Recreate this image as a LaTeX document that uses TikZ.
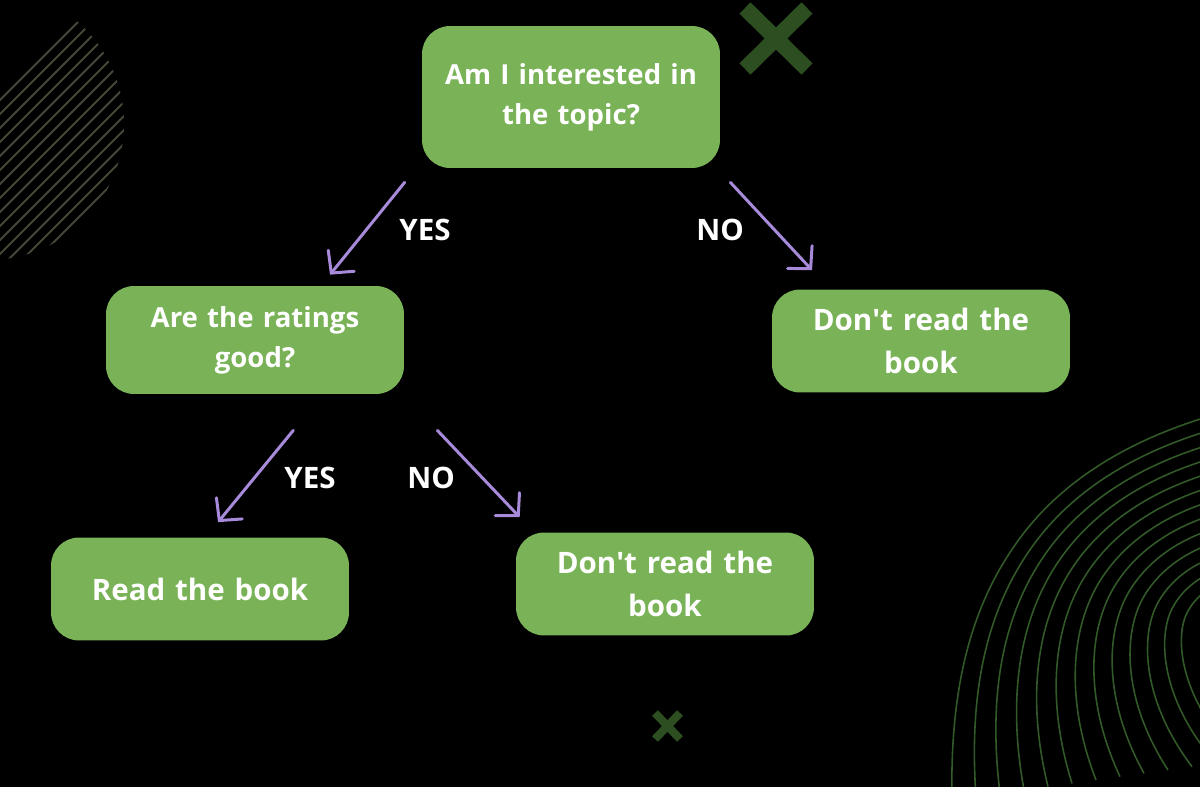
\documentclass[tikz,border=0pt]{standalone}
\usepackage{fontspec}
\setmainfont{Open Sans}
\usetikzlibrary{arrows.meta,positioning}
\definecolor{BoxGreen}{RGB}{121,178,87}
\definecolor{DarkGreen}{RGB}{44,78,32}
\definecolor{LineGreen}{RGB}{50,90,40}
\definecolor{HatchGrey}{RGB}{70,70,58}
\definecolor{Lavender}{RGB}{168,138,218}
\newcommand{\dont}{Don\textquotesingle t}
\tikzset{
  question/.style={fill=BoxGreen,rounded corners=0.56cm,minimum width=5.96cm,
    text width=5.7cm,align=center,text=white,
    font=\fontsize{15.7}{22.7}\selectfont\bfseries},
  answer/.style={question,minimum height=2.06cm,
    font=\fontsize{16.8}{24.4}\selectfont\bfseries},
  arrow/.style={-{Straight Barb[length=9pt,width=19pt,line cap=round]},
    line width=1.7pt,line cap=round,Lavender},
  choice/.style={text=white,font=\fontsize{16.8}{20}\selectfont\bfseries},
  cross/.style={DarkGreen,line width=#1}
}

\begin{document}
\begin{tikzpicture}[x=0.02cm,y=-0.02cm]
  \fill[black] (0,0) rectangle (1200,787);
  \useasboundingbox (0,0) rectangle (1200,787);
  % hatched half disc, top left
  \begin{scope}
    \clip (-12,124) circle[radius=136];
    \foreach \k in {0,...,40}
      \draw[HatchGrey,line width=1.1pt] (-200+\k*14,300) -- ++(300,-300);
  \end{scope}
  % contour lines, bottom right
  \begin{scope}
    \clip (0,0) rectangle (1200,787);
    \foreach \i in {0,...,12}{
      \pgfmathsetmacro{\t}{\i/12}
      \draw[LineGreen,line width=0.9pt]
        ({1210+\t*25},{416+\t*164})
        .. controls ({1130+\t*85},{440+\t*142}) and ({1060+\t*135},{480+\t*115})
        .. ({1015+\t*171},{545+\t*70})
        .. controls ({966+\t*209},{615+\t*25}) and ({950+\t*230},700)
        .. ({952+\t*288},{800-\t*40});
    }
  \end{scope}
  % crosses
  \draw[cross=9pt] (745,8) -- (807,69) (807,8) -- (745,69);
  \draw[cross=4.6pt] (655,713) -- (680,739) (680,713) -- (655,739);

  \node[question,minimum height=2.84cm] (topic) at (571,97)
    {Am I interested in\\the topic?};
  \node[question,minimum height=2.16cm] (rating) at (255,340)
    {Are the ratings\\good?};
  \node[answer] (skipA) at (921,341) {\dont{} read the\\book};
  \node[answer] (read) at (200,589) {Read the book};
  \node[answer] (skipB) at (665,584) {\dont{} read the\\book};

  \draw[arrow] ([xshift=-0.34cm,yshift=-0.28cm]topic.south west)
    -- ([xshift=1.5cm,yshift=0.22cm]rating.north);
  \draw[arrow] ([xshift=0.2cm,yshift=-0.28cm]topic.south east)
    -- ([xshift=-2.18cm,yshift=0.38cm]skipA.north);
  \draw[arrow] ([xshift=-2.22cm,yshift=-0.72cm]rating.south east)
    -- ([xshift=0.36cm,yshift=0.3cm]read.north);
  \draw[arrow] ([xshift=0.66cm,yshift=-0.72cm]rating.south east)
    -- ([xshift=0.08cm,yshift=0.3cm]skipB.north west);

  \node[choice] (yesA) at (425,230) {YES};
  \node[choice] (noA) at (720,230) {NO};
  \node[choice] (yesB) at (310,478) {YES};
  \node[choice] (noB) at (431,478) {NO};
\end{tikzpicture}
\end{document}
